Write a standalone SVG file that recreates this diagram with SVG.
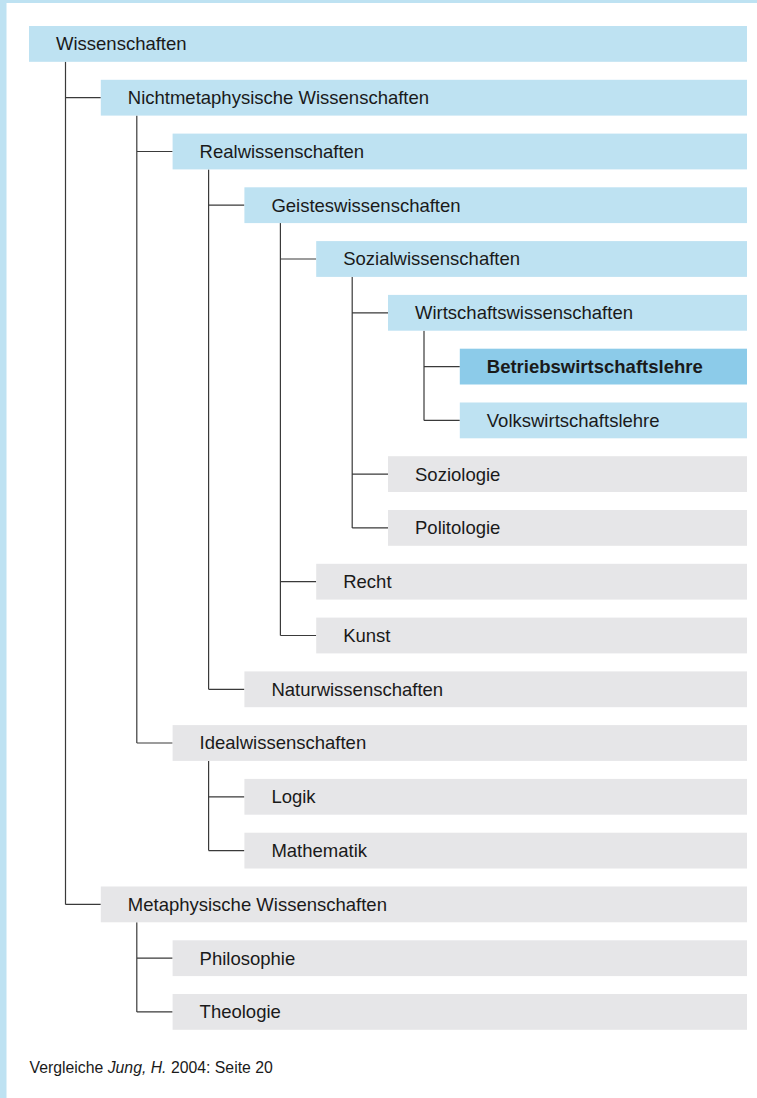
<svg xmlns="http://www.w3.org/2000/svg" width="757" height="1098" viewBox="0 0 757 1098">
  <style>
    .box { fill: #bee2f2; }
    .box.key { fill: #8ccbe9; }
    .box.grey { fill: #e6e6e8; }
    .lbl { font-family: "Liberation Sans", Arial, sans-serif; font-size: 18.5px; fill: #1a1a1a; }
    .lbl.bold { font-weight: bold; }
    .conn { fill: none; stroke: #3a3a3a; stroke-width: 1.2; }
    .note { font-family: "Liberation Sans", Arial, sans-serif; font-size: 15.8px; fill: #1a1a1a; }
  </style>

  <!-- page background and frame -->
  <rect x="0" y="0" width="757" height="1098" fill="#ffffff"/>
  <rect x="0" y="0" width="757" height="3" fill="#bee2f2"/>
  <rect x="0" y="0" width="6.5" height="1098" fill="#bee2f2"/>

  <!-- tree connectors: vertical spine from parent, elbow into each child -->
  <g id="connectors" class="conn">
    <!-- Wissenschaften -->
    <path d="M65.5 61.8 V904.4 M65.5 97.7 H100.8 M65.5 904.4 H100.8"/>
    <!-- Nichtmetaphysische Wissenschaften -->
    <path d="M136.8 115.6 V743 M136.8 151.5 H172.6 M136.8 743 H172.6"/>
    <!-- Realwissenschaften -->
    <path d="M208.6 169.4 V689.3 M208.6 205.2 H244.4 M208.6 689.3 H244.4"/>
    <!-- Geisteswissenschaften -->
    <path d="M280.4 223.1 V635.5 M280.4 259 H316.2 M280.4 581.7 H316.2 M280.4 635.5 H316.2"/>
    <!-- Sozialwissenschaften -->
    <path d="M352.2 276.9 V527.9 M352.2 312.8 H388 M352.2 474.1 H388 M352.2 527.9 H388"/>
    <!-- Wirtschaftswissenschaften -->
    <path d="M424 330.7 V420.4 M424 366.6 H459.8 M424 420.4 H459.8"/>
    <!-- Idealwissenschaften -->
    <path d="M208.6 760.9 V850.6 M208.6 796.8 H244.4 M208.6 850.6 H244.4"/>
    <!-- Metaphysische Wissenschaften -->
    <path d="M136.8 922.3 V1011.9 M136.8 958.2 H172.6 M136.8 1011.9 H172.6"/>
  </g>

  <g id="n-wissenschaften"><rect class="box" x="29" y="26" width="718" height="35.8"/><text class="lbl" x="56" y="50.3">Wissenschaften</text></g>
  <g id="n-nichtmetaphysisch"><rect class="box" x="100.8" y="79.8" width="646.2" height="35.8"/><text class="lbl" x="127.8" y="104.1">Nichtmetaphysische Wissenschaften</text></g>
  <g id="n-real"><rect class="box" x="172.6" y="133.6" width="574.4" height="35.8"/><text class="lbl" x="199.6" y="157.9">Realwissenschaften</text></g>
  <g id="n-geistes"><rect class="box" x="244.4" y="187.3" width="502.6" height="35.8"/><text class="lbl" x="271.4" y="211.6">Geisteswissenschaften</text></g>
  <g id="n-sozial"><rect class="box" x="316.2" y="241.1" width="430.8" height="35.8"/><text class="lbl" x="343.2" y="265.4">Sozialwissenschaften</text></g>
  <g id="n-wirtschaft"><rect class="box" x="388" y="294.9" width="359" height="35.8"/><text class="lbl" x="415" y="319.2">Wirtschaftswissenschaften</text></g>
  <g id="n-bwl"><rect class="box key" x="459.8" y="348.7" width="287.2" height="35.8"/><text class="lbl bold" x="486.8" y="373">Betriebswirtschaftslehre</text></g>
  <g id="n-vwl"><rect class="box" x="459.8" y="402.5" width="287.2" height="35.8"/><text class="lbl" x="486.8" y="426.8">Volkswirtschaftslehre</text></g>
  <g id="n-soziologie"><rect class="box grey" x="388" y="456.2" width="359" height="35.8"/><text class="lbl" x="415" y="480.5">Soziologie</text></g>
  <g id="n-politologie"><rect class="box grey" x="388" y="510" width="359" height="35.8"/><text class="lbl" x="415" y="534.3">Politologie</text></g>
  <g id="n-recht"><rect class="box grey" x="316.2" y="563.8" width="430.8" height="35.8"/><text class="lbl" x="343.2" y="588.1">Recht</text></g>
  <g id="n-kunst"><rect class="box grey" x="316.2" y="617.6" width="430.8" height="35.8"/><text class="lbl" x="343.2" y="641.9">Kunst</text></g>
  <g id="n-natur"><rect class="box grey" x="244.4" y="671.4" width="502.6" height="35.8"/><text class="lbl" x="271.4" y="695.7">Naturwissenschaften</text></g>
  <g id="n-ideal"><rect class="box grey" x="172.6" y="725.1" width="574.4" height="35.8"/><text class="lbl" x="199.6" y="749.4">Idealwissenschaften</text></g>
  <g id="n-logik"><rect class="box grey" x="244.4" y="778.9" width="502.6" height="35.8"/><text class="lbl" x="271.4" y="803.2">Logik</text></g>
  <g id="n-mathematik"><rect class="box grey" x="244.4" y="832.7" width="502.6" height="35.8"/><text class="lbl" x="271.4" y="857">Mathematik</text></g>
  <g id="n-metaphysisch"><rect class="box grey" x="100.8" y="886.5" width="646.2" height="35.8"/><text class="lbl" x="127.8" y="910.8">Metaphysische Wissenschaften</text></g>
  <g id="n-philosophie"><rect class="box grey" x="172.6" y="940.3" width="574.4" height="35.8"/><text class="lbl" x="199.6" y="964.6">Philosophie</text></g>
  <g id="n-theologie"><rect class="box grey" x="172.6" y="994" width="574.4" height="35.8"/><text class="lbl" x="199.6" y="1018.3">Theologie</text></g>

  <text class="note" x="29.5" y="1073">Vergleiche <tspan font-style="italic">Jung, H.</tspan> 2004: Seite 20</text>
</svg>
